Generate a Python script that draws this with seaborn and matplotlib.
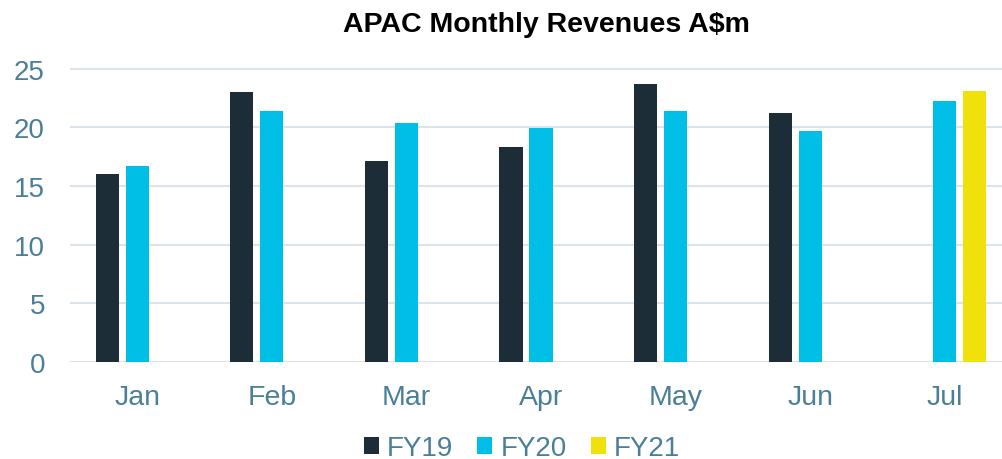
import matplotlib
matplotlib.use("Agg")
import matplotlib.pyplot as plt
import seaborn as sns
import pandas as pd
import numpy as np
from matplotlib.patches import Patch

months = ["Jan", "Feb", "Mar", "Apr", "May", "Jun", "Jul"]
fy19 = [16.0, 23.0, 17.1, 18.3, 23.7, 21.2, np.nan]
fy20 = [16.7, 21.4, 20.4, 19.9, 21.4, 19.7, 22.2]
fy21 = [np.nan, np.nan, np.nan, np.nan, np.nan, np.nan, 23.1]
series = ["FY19", "FY20", "FY21"]
colors = ["#1C2D38", "#00BFE7", "#F0E10A"]
yticks = [0, 5, 10, 15, 20, 25]

rows = []
for s, vals in zip(series, [fy19, fy20, fy21]):
    for m, v in zip(months, vals):
        rows.append({"Month": m, "Series": s, "Value": v})
df = pd.DataFrame(rows)

sns.set_theme(style="white")
plt.rcParams["font.family"] = ["Liberation Sans", "DejaVu Sans"]

fig = plt.figure(figsize=(10.03, 4.6), dpi=100)
ax = fig.add_axes([70/1003, 97/460, 942/1003, 294/460])

ax.yaxis.grid(True, color="#D9E4EC", linewidth=1.5)
ax.set_axisbelow(True)
sns.barplot(data=df, x="Month", y="Value", hue="Series", order=months,
            hue_order=series, palette=colors, width=0.67, gap=0.23,
            ax=ax, legend=False, saturation=1, edgecolor="none")

ax.set_ylim(0, 25.05)
ax.set_xlim(-0.5, 6.5)
ax.set_yticks(yticks)
ax.set_yticklabels([str(t) for t in yticks])
ax.set_xlabel("")
ax.set_ylabel("")
for sp in ax.spines.values():
    sp.set_visible(False)
lab_col = "#4A7F9A"
ax.tick_params(axis="y", labelsize=20, labelcolor=lab_col, pad=18, length=0)
ax.tick_params(axis="x", labelsize=20.5, labelcolor=lab_col, pad=16, length=0)

fig.suptitle("APAC Monthly Revenues A$m", x=546/1003, y=1-25/460, va="center",
             fontsize=20.5, fontweight="bold", color="#000000")

handles = [Patch(facecolor=c, edgecolor="none") for c in colors]
leg = fig.legend(handles, series, loc="center", bbox_to_anchor=(522/1003, 1-449/460),
                 ncol=3, frameon=False, fontsize=20, handlelength=0.55, handleheight=0.55,
                 handletextpad=0.3, columnspacing=0.85)
for t in leg.get_texts():
    t.set_color(lab_col)

fig.savefig("out.png", dpi=100)
